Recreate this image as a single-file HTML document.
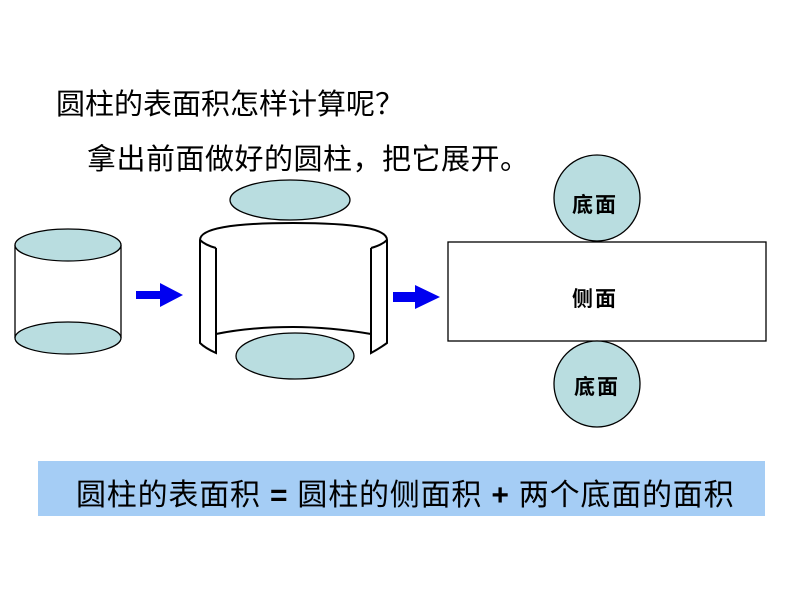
<!DOCTYPE html>
<html><head><meta charset="utf-8"><style>
body{margin:0;width:794px;height:596px;background:#fff;overflow:hidden;position:relative;font-family:"Liberation Sans","Noto Sans CJK SC",sans-serif}
.t{position:absolute;white-space:nowrap;color:#000}
</style></head><body>
<div class="t" style="left:56px;top:81px;font-size:29px">圆柱的表面积怎样计算呢？</div>
<div class="t" style="left:87px;top:136px;font-size:29px;letter-spacing:0.5px">拿出前面做好的圆柱，把它展开。</div>
<svg width="794" height="596" style="position:absolute;left:0;top:0">
<g stroke="#000" stroke-width="1.3">
<line x1="15" y1="245" x2="15" y2="338"/><line x1="121" y1="245" x2="121" y2="338"/>
<ellipse cx="68" cy="245" rx="53" ry="16" fill="#b9dde0"/>
<ellipse cx="68" cy="338" rx="53" ry="16" fill="#b9dde0"/>
<ellipse cx="290" cy="200" rx="60" ry="20" fill="#b9dde0"/>
<path d="M200,240 Q200,223 293,223 Q387,223 387,240 L387,343 Q380,348 371,353 L371,334 Q330,327 293,327 Q250,327 216,334 L216,353 Q205,348 200,343 Z" fill="#fff" stroke-width="2"/>
<path d="M216,248 L216,334 M371,248 L371,334 M200,240 Q205,245 216,248 M387,240 Q382,245 371,248" fill="none" stroke-width="2"/>
<ellipse cx="295" cy="356" rx="59" ry="23" fill="#b9dde0"/>
<rect x="448" y="242" width="318" height="99" fill="#fff"/>
<circle cx="597" cy="198" r="43" fill="#b9dde0"/>
<circle cx="597" cy="384" r="43" fill="#b9dde0"/>
</g>
<path d="M136,291 H160 V283 L183,295 L160,307 V299 H136 Z" fill="#0000f0"/>
<path d="M393,292 H415 V285 L440,297 L415,309 V302 H393 Z" fill="#0000f0"/>
</svg>
<div class="t" style="left:572px;top:189px;font-size:21px;font-weight:bold;letter-spacing:2px">底面</div>
<div class="t" style="left:572px;top:283px;font-size:21px;font-weight:bold;letter-spacing:2px">侧面</div>
<div class="t" style="left:574px;top:371px;font-size:21px;font-weight:bold;letter-spacing:2px">底面</div>
<div style="position:absolute;left:38px;top:461px;width:727px;height:55px;background:#a5cdf5"></div>
<div class="t" style="left:76px;top:470px;font-size:30px;letter-spacing:0.8px">圆柱的表面积 <b>=</b> 圆柱的侧面积 <b>+</b> 两个底面的面积</div>
</body></html>
